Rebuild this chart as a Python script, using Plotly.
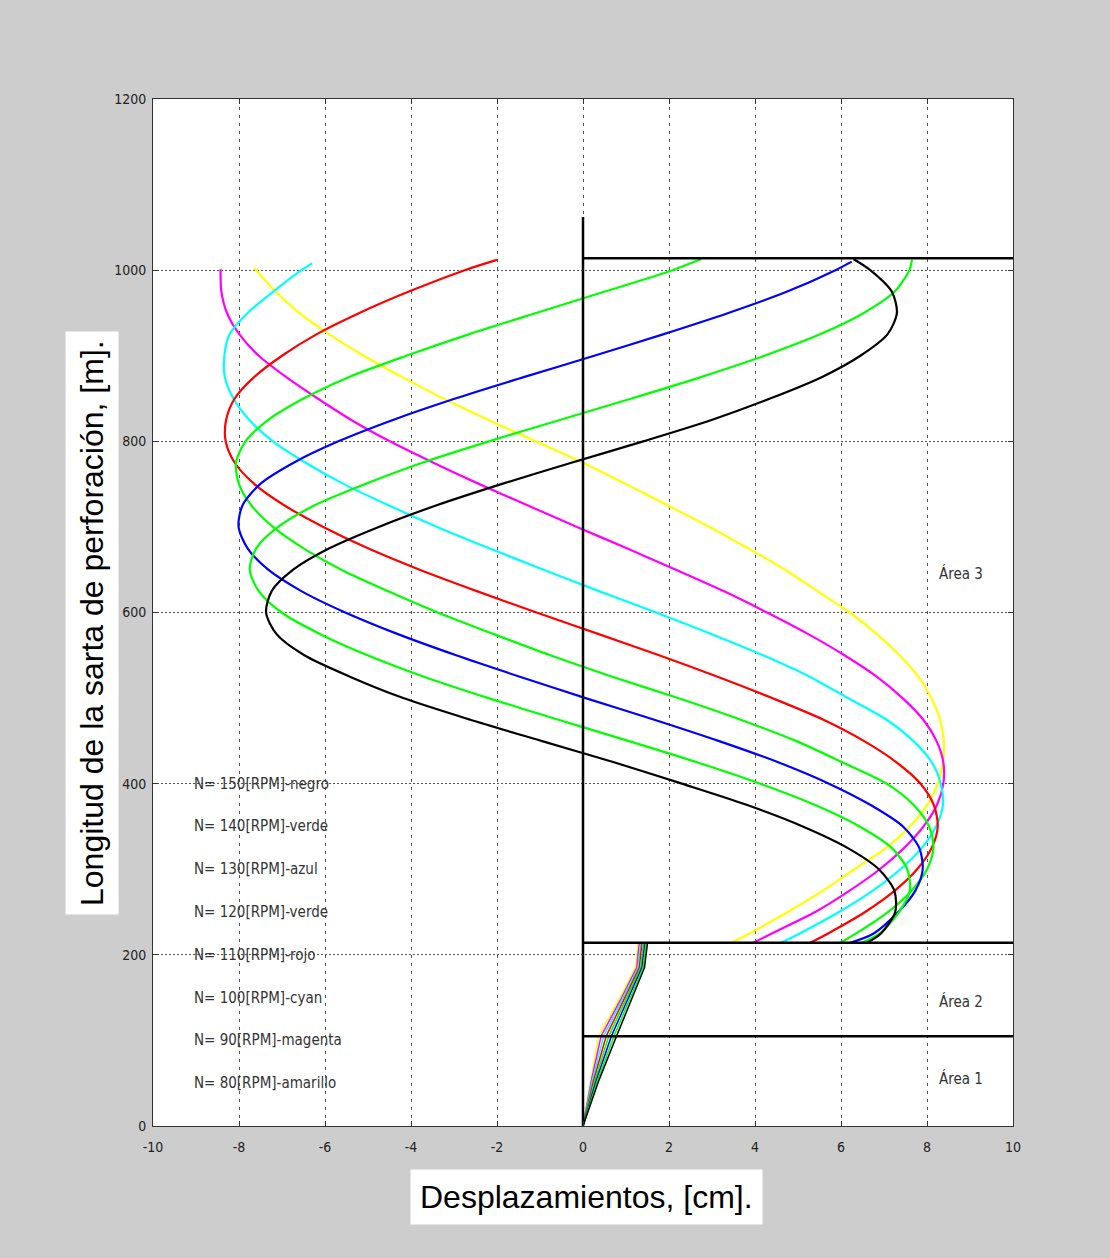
import plotly.graph_objects as go

# ---------------- data ----------------
rpm_values = [150, 140, 130, 120, 110, 100, 90, 80]
color_names = ["negro", "verde", "azul", "verde", "rojo", "cyan", "magenta", "amarillo"]
line_colors = ["#000000", "#00ff00", "#0000ff", "#00ff00", "#ff0000", "#00ffff", "#ff00ff", "#ffff00"]

# Area 3 : shared length grid [m]
length_area3 = [214, 225, 250, 275, 300, 325, 350, 375, 400, 425, 450, 475, 500, 525, 550,
                575, 600, 625, 650, 675, 700, 725, 750, 775, 800, 825, 850, 875, 900, 925,
                950, 975, 1000]

disp_150 = [6.60, 6.93, 7.26, 7.24, 6.88, 6.15, 5.11, 3.82, 2.30, 0.72, -0.97, -2.64, -4.18,
            -5.42, -6.48, -7.13, -7.37, -7.24, -6.74, -5.90, -4.75, -3.42, -1.90, -0.27, 1.40,
            2.99, 4.35, 5.55, 6.45, 7.08, 7.30, 7.18, 6.68]
disp_140 = [6.48, 6.90, 7.35, 7.60, 7.54, 7.18, 6.43, 5.40, 4.12, 2.65, 1.05, -0.59, -2.20,
            -3.70, -5.01, -6.12, -7.01, -7.54, -7.75, -7.60, -7.09, -6.25, -5.07, -3.74, -2.19,
            -0.54, 1.13, 2.74, 4.22, 5.51, 6.53, 7.25, 7.59]
disp_130 = [6.21, 6.76, 7.33, 7.73, 7.90, 7.82, 7.44, 6.69, 5.72, 4.54, 3.15, 1.64, 0.06,
            -1.47, -2.95, -4.32, -5.53, -6.55, -7.32, -7.80, -8.01, -7.92, -7.51, -6.73, -5.69,
            -4.42, -2.97, -1.38, 0.26, 1.86, 3.38, 4.75, 5.87]
disp_120 = [5.98, 6.35, 7.09, 7.64, 8.00, 8.15, 8.05, 7.69, 7.06, 6.03, 4.95, 3.65, 2.21,
            0.68, -0.76, -2.09, -3.38, -4.54, -5.62, -6.50, -7.21, -7.71, -8.00, -8.07, -7.85,
            -7.32, -6.50, -5.45, -4.11, -2.66, -1.09, 0.51, 2.08]
disp_110 = [5.28, 5.70, 6.56, 7.25, 7.77, 8.11, 8.25, 8.16, 7.85, 7.29, 6.53, 5.58, 4.40,
            3.13, 1.77, 0.35, -1.08, -2.47, -3.80, -5.00, -6.04, -6.94, -7.64, -8.10, -8.31,
            -8.30, -8.10, -7.65, -7.00, -6.20, -5.20, -4.05, -2.75]
disp_100 = [4.60, 5.04, 5.95, 6.74, 7.38, 7.88, 8.21, 8.37, 8.32, 8.11, 7.68, 7.05, 6.16,
            5.27, 4.19, 2.98, 1.70, 0.37, -0.92, -2.18, -3.39, -4.51, -5.56, -6.45, -7.21,
            -7.76, -8.13, -8.33, -8.34, -8.22, -7.80, -7.20, -6.55]
disp_90 = [3.96, 4.39, 5.40, 6.20, 6.90, 7.47, 7.92, 8.23, 8.38, 8.38, 8.22, 7.91, 7.43,
           6.83, 6.08, 5.23, 4.28, 3.27, 2.16, 1.02, -0.14, -1.28, -2.41, -3.48, -4.49,
           -5.39, -6.17, -6.90, -7.54, -7.99, -8.28, -8.41, -8.43]
disp_80 = [3.45, 3.87, 4.76, 5.58, 6.31, 7.05, 7.60, 8.00, 8.25, 8.37, 8.39, 8.30, 8.10,
           7.80, 7.36, 6.83, 6.20, 5.45, 4.70, 3.84, 2.94, 1.98, 1.00, 0.00, -1.10,
           -2.20, -3.25, -4.20, -5.10, -5.90, -6.60, -7.15, -7.60]

# last point of each area-3 curve (same order as rpm_values)
end_length = [1013, 1012, 1010, 1013, 1012, 1008, 1001, 1003]
end_disp = [6.29, 7.65, 6.25, 2.75, -2.00, -6.30, -8.43, -7.65]

# Areas 1 and 2
length_low = [0, 52, 105, 150, 185, 214]
low_150 = [0, 0.36, 0.78, 1.14, 1.43, 1.50]
low_140 = [0, 0.33, 0.72, 1.10, 1.40, 1.47]
low_130 = [0, 0.30, 0.66, 1.06, 1.37, 1.44]
low_120 = [0, 0.27, 0.60, 1.02, 1.34, 1.41]
low_110 = [0, 0.24, 0.54, 0.98, 1.31, 1.37]
low_100 = [0, 0.21, 0.48, 0.94, 1.28, 1.34]
low_90 = [0, 0.19, 0.42, 0.90, 1.25, 1.31]
low_80 = [0, 0.17, 0.36, 0.86, 1.22, 1.28]

# boundaries between areas and the drill-string axis
boundary_lengths = [105, 214, 1014]
axis_top_length = 1062

label_lengths = [400, 350, 300, 250, 200, 150, 100, 50]
area_names = ["Área 3", "Área 2", "Área 1"]
area_label_lengths = [645, 146, 56]

x_ticks = [-10, -8, -6, -4, -2, 0, 2, 4, 6, 8, 10]
y_ticks = [0, 200, 400, 600, 800, 1000, 1200]

area3 = [disp_150, disp_140, disp_130, disp_120, disp_110, disp_100, disp_90, disp_80]
low = [low_150, low_140, low_130, low_120, low_110, low_100, low_90, low_80]

NARROW = "Liberation Sans Narrow, DejaVu Sans Condensed, Arial Narrow, sans-serif"

fig = go.Figure()

# draw from 80 RPM up to 150 RPM so that black ends on top
for i in reversed(range(len(rpm_values))):
    fig.add_trace(go.Scatter(
        x=low[i], y=length_low, mode="lines",
        line=dict(color=line_colors[i], width=1.5),
        showlegend=False, hoverinfo="skip"))
for i in reversed(range(len(rpm_values))):
    fig.add_trace(go.Scatter(
        x=area3[i] + [end_disp[i]], y=length_area3 + [end_length[i]], mode="lines",
        line=dict(color=line_colors[i], width=2.2, shape="spline", smoothing=0.8),
        name=f"N= {rpm_values[i]}[RPM]", showlegend=False))

# black structural lines
fig.add_trace(go.Scatter(x=[0, 0], y=[0, axis_top_length], mode="lines",
                         line=dict(color="black", width=2.5), showlegend=False, hoverinfo="skip"))
for b in boundary_lengths:
    fig.add_trace(go.Scatter(x=[0, 10], y=[b, b], mode="lines",
                             line=dict(color="black", width=2.5), showlegend=False,
                             hoverinfo="skip"))

# text labels
for rpm, name, yl in zip(rpm_values, color_names, label_lengths):
    fig.add_annotation(x=-9.1, y=yl, xref="x", yref="y", text=f"N= {rpm}[RPM]-{name}",
                       showarrow=False, xanchor="left", yanchor="middle",
                       font=dict(family=NARROW, size=15, color="#333333"))
for name, yl in zip(area_names, area_label_lengths):
    fig.add_annotation(x=8.8, y=yl, xref="x", yref="y", text=name, showarrow=False,
                       xanchor="center", yanchor="middle",
                       font=dict(family=NARROW, size=15, color="#333333"))

# axis titles in white boxes
fig.add_annotation(x=-0.0709, y=0.4898, xref="paper", yref="paper",
                   xanchor="center", yanchor="middle",
                   text="Longitud de la sarta de perforación, [m].", textangle=-90,
                   showarrow=False, bgcolor="white", borderpad=8,
                   font=dict(family="Liberation Sans, Arial, sans-serif", size=32, color="black"))
fig.add_annotation(x=0.5035, y=-0.0691, xref="paper", yref="paper",
                   xanchor="center", yanchor="middle",
                   text="Desplazamientos, [cm].", showarrow=False, bgcolor="white",
                   borderpad=9,
                   font=dict(family="Liberation Sans, Arial, sans-serif", size=32, color="black"))

axis_common = dict(showline=True, linecolor="#333333", linewidth=1, mirror="allticks",
                   ticks="inside", ticklen=5, tickcolor="#333333",
                   showgrid=True, gridcolor="#555555", gridwidth=1, zeroline=False,
                   tickfont=dict(family=NARROW, size=14, color="#222222"))

fig.update_xaxes(range=[-10, 10], tickvals=x_ticks, ticktext=[str(v) for v in x_ticks],
                 griddash="3px,5px", ticklabelstandoff=8, **axis_common)
fig.update_yaxes(range=[0, 1200], tickvals=y_ticks, ticktext=[str(v) for v in y_ticks],
                 griddash="2px,2px", ticklabelstandoff=3, **axis_common)

fig.update_layout(
    width=1110, height=1258,
    margin=dict(l=153, r=97, t=99, b=132),
    paper_bgcolor="#cdcdcd", plot_bgcolor="white",
    showlegend=False,
)

fig.write_html("out.html", config={"displayModeBar": False},
               post_script="document.body.style.margin='0';document.body.style.overflow='hidden';")
